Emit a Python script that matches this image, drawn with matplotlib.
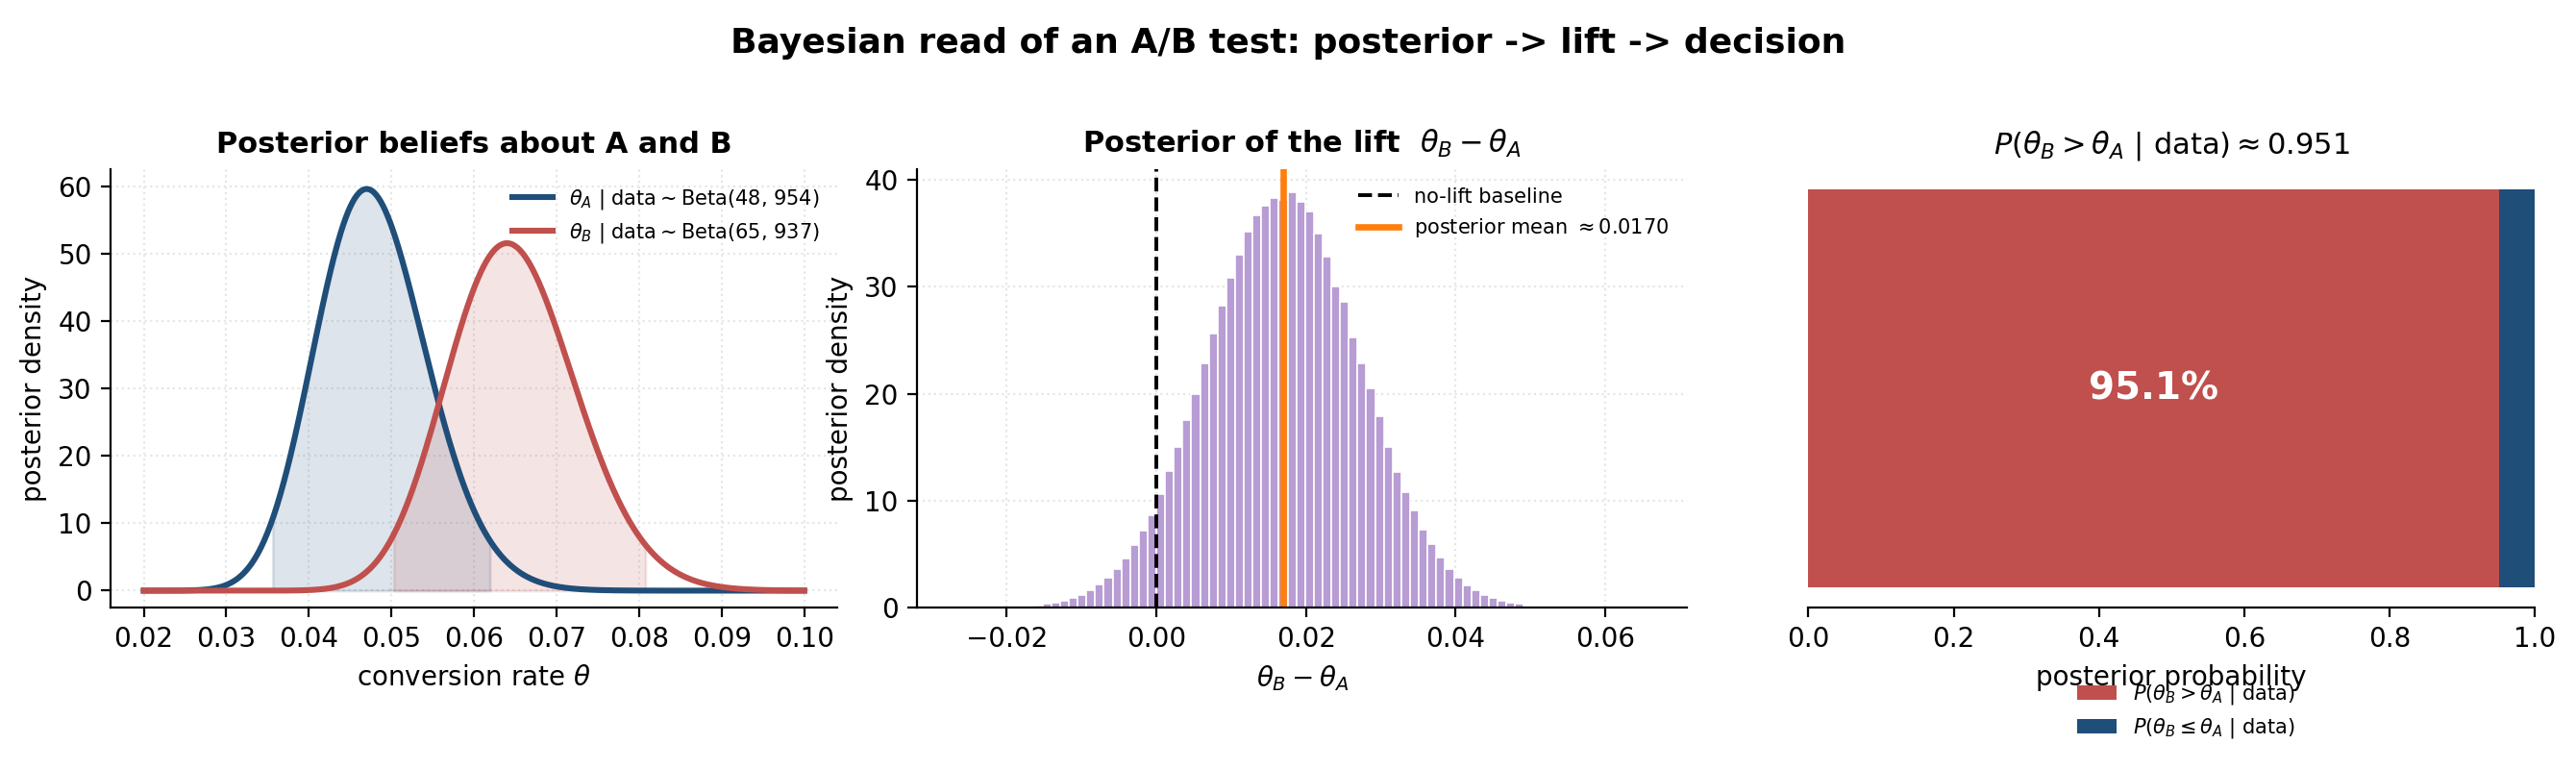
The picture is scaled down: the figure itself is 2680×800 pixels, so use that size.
import math
import numpy as np
import matplotlib
matplotlib.use("Agg")
import matplotlib.pyplot as plt

# ---- data ----
alpha_A, beta_A = 48, 954
alpha_B, beta_B = 65, 937
ci_A = (0.0355, 0.0620)
ci_B = (0.0502, 0.0808)
lift_bin_width = 0.00117
lift_bin_start_index = -14
lift_heights = [0.22, 0.32, 0.45, 0.63, 0.88, 1.20, 1.61, 2.13, 2.80, 3.61, 4.61, 5.81, 7.22, 8.6,
                10.6, 12.8, 15.0, 17.5, 20.0, 22.8, 25.6, 28.2, 30.8, 33.0, 35.2, 36.7, 37.6, 38.3,
                38.1, 38.8, 37.9, 37.0, 35.0, 32.8, 30.0, 28.6, 25.3, 22.8, 20.5, 17.9, 15.0, 12.7,
                10.8, 9.1, 7.3, 5.9, 4.7, 3.6, 2.8, 2.1, 1.6, 1.2, 0.9, 0.65, 0.45, 0.33]
lift_mean = 0.0170
prob_B_better = 0.951

cA = "#1f4e79"
cB = "#c0504d"
cP = "#b89cd4"
cO = "#ff7f0e"

def beta_pdf(x, a, b):
    lg = math.lgamma(a + b) - math.lgamma(a) - math.lgamma(b)
    return np.exp(lg + (a - 1) * np.log(x) + (b - 1) * np.log(1 - x))

fig = plt.figure(figsize=(13.4, 4.0), dpi=200)
ax1 = fig.add_axes([0.043, 0.21, 0.282, 0.57])
ax2 = fig.add_axes([0.356, 0.21, 0.299, 0.57])
ax3 = fig.add_axes([0.702, 0.21, 0.282, 0.57])
fig.suptitle("Bayesian read of an A/B test: posterior -> lift -> decision",
             fontsize=13, fontweight="bold", y=0.965)

for ax in (ax1, ax2, ax3):
    ax.grid(True, linestyle=":", color="#e6e6e6", linewidth=0.8)
    ax.set_axisbelow(True)
    ax.spines["top"].set_visible(False)
    ax.spines["right"].set_visible(False)
    ax.tick_params(labelsize=10)

# panel 1
x = np.linspace(0.02, 0.10, 600)
yA = beta_pdf(x, alpha_A, beta_A)
yB = beta_pdf(x, alpha_B, beta_B)
ax1.plot(x, yA, color=cA, lw=2.2, label=r"$\theta_A$ | data$\sim$Beta(48, 954)")
ax1.plot(x, yB, color=cB, lw=2.2, label=r"$\theta_B$ | data$\sim$Beta(65, 937)")
mA = (x >= ci_A[0]) & (x <= ci_A[1])
mB = (x >= ci_B[0]) & (x <= ci_B[1])
ax1.fill_between(x[mA], 0, yA[mA], color=cA, alpha=0.15)
ax1.fill_between(x[mB], 0, yB[mB], color=cB, alpha=0.15)
ax1.set_xlim(0.016, 0.104)
ax1.set_ylim(-2.5, 62.5)
ax1.set_xticks(np.arange(0.02, 0.1001, 0.01))
ax1.set_xlabel(r"conversion rate $\theta$", fontsize=10)
ax1.set_ylabel("posterior density", fontsize=10)
ax1.set_title("Posterior beliefs about A and B", fontsize=11, fontweight="bold")
ax1.legend(fontsize=7.5, frameon=False, loc="upper right")

# panel 2
edges = (np.arange(len(lift_heights)) + lift_bin_start_index) * lift_bin_width
ax2.bar(edges, lift_heights, width=lift_bin_width, align="edge", color=cP,
        edgecolor="white", linewidth=0.6)
ax2.axvline(0, color="black", ls="--", lw=1.4, label="no-lift baseline")
ax2.axvline(lift_mean, color=cO, lw=2.4, label=r"posterior mean $\approx0.0170$")
ax2.set_xlim(-0.032, 0.071)
ax2.set_ylim(0, 41)
ax2.set_xticks([-0.02, 0.0, 0.02, 0.04, 0.06])
ax2.set_xlabel(r"$\theta_B - \theta_A$", fontsize=10)
ax2.set_ylabel("posterior density", fontsize=10)
ax2.set_title(r"Posterior of the lift  $\theta_B - \theta_A$", fontsize=11, fontweight="bold")
ax2.legend(fontsize=7.5, frameon=False, loc="upper right")

# panel 3
ax3.barh([0], [prob_B_better], color=cB, label=r"$P(\theta_B > \theta_A\ |\ \mathrm{data})$")
ax3.barh([0], [1 - prob_B_better], left=[prob_B_better], color=cA,
         label=r"$P(\theta_B \leq \theta_A\ |\ \mathrm{data})$")
ax3.text(prob_B_better / 2, 0, f"{prob_B_better*100:.1f}%", color="white",
         fontsize=14, fontweight="bold", ha="center", va="center")
ax3.set_xlim(0, 1)
ax3.set_yticks([])
ax3.spines["left"].set_visible(False)
ax3.grid(False)
ax3.set_xlabel("posterior probability", fontsize=10)
ax3.set_title(r"$P(\theta_B > \theta_A\ |\ \mathrm{data}) \approx 0.951$", fontsize=11)
ax3.legend(fontsize=7.5, frameon=False, loc="upper center", bbox_to_anchor=(0.52, -0.13))

fig.savefig("out.png", dpi=200)
